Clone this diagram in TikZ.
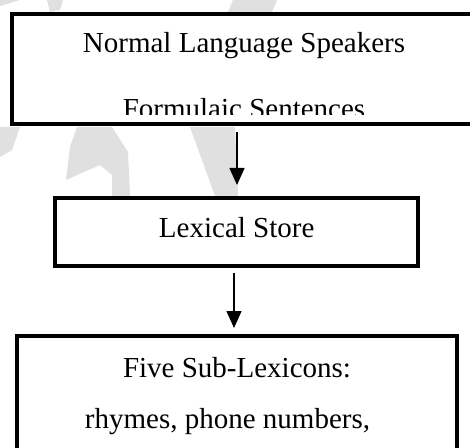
\documentclass[tikz,border=0pt]{standalone}
\usepackage{fontspec}
\setmainfont{Liberation Serif}
\usetikzlibrary{arrows.meta}
\definecolor{wmark}{HTML}{E0E0E0}
\tikzset{
  boxnode/.style={draw=black, fill=white, line width=4pt, inner sep=0pt, outer sep=0pt, rectangle},
  lbl/.style={font=\fontsize{29}{35}\selectfont, inner sep=0pt, anchor=base},
  arr/.style={line width=1.4pt, -{Triangle[length=17pt,width=15pt]}},
  wm/.style={fill=wmark, draw=none}
}
\begin{document}
\begin{tikzpicture}[x=1pt,y=1pt]
\clip (0,0) rectangle (470,447);
\fill[white] (0,0) rectangle (470,447);
% faint watermark pieces
\fill[wm] (0,447) -- (20,447) -- (0,441) -- cycle;
\fill[wm] (47,447) -- (63,447) -- (60,437) -- (50,435) -- cycle;
\fill[wm] (233,447) -- (277,447) -- (272,435) -- (228,435) -- cycle;
\fill[wm] (0,320) -- (20,320) -- (12,297) -- (0,290) -- cycle;
\fill[wm] (190,320) -- (235,320) -- (238,251) -- (215,251) -- cycle;
\fill[wm] (77,320) -- (112,320) -- (128,295) -- (130,251) -- (112,251) -- (112,272) -- (100,282) -- (66,267) -- (70,300) -- cycle;
% boxes
\node[boxnode, minimum width=465.5pt, minimum height=110pt] (top) at (244.25,377.5) {};
\node[boxnode, minimum width=363pt, minimum height=68pt] (lex) at (236.5,215) {};
\node[boxnode, minimum width=440pt, minimum height=134pt] (five) at (237,44) {};
% texts
\node[lbl] (t1) at (244,394) {Normal Language Speakers};
\begin{scope}
\clip (0,332) rectangle (470,420);
\node[lbl] (t2) at (244,328) {Formulaic Sentences};
\end{scope}
\node[lbl] (t3) at (236.7,209.7) {Lexical Store};
\node[lbl] (t4) at (237,70) {Five Sub-Lexicons:};
\node[lbl] (t5) at (227.5,19) {rhymes, phone numbers,};
% arrows
\coordinate (a1s) at (237,315);
\coordinate (a1e) at (237,262);
\coordinate (a2s) at (234,174);
\coordinate (a2e) at (234,119);
\draw[arr] (a1s) -- (a1e);
\draw[arr] (a2s) -- (a2e);
\end{tikzpicture}
\end{document}
